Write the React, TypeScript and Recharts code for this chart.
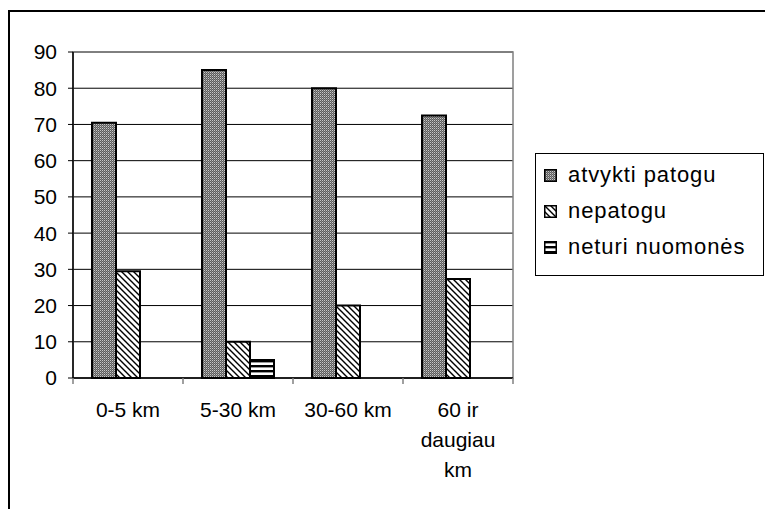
import React from 'react';
import { BarChart, Bar, XAxis, YAxis, CartesianGrid, ReferenceArea } from 'recharts';

const categories = ['0-5 km', '5-30 km', '30-60 km', '60 ir daugiau km'];
const patoguValues = [70.5, 85, 80, 72.5];
const nepatoguValues = [29.5, 10, 20, 27.3];
const neturiValues = [0, 5, 0, 0];
const yTicks = [0, 10, 20, 30, 40, 50, 60, 70, 80, 90];

const seriesNames = ['atvykti patogu', 'nepatogu', 'neturi nuomonės'];

const data = categories.map((name, i) => ({
  name,
  patogu: patoguValues[i],
  nepatogu: nepatoguValues[i],
  neturi: neturiValues[i],
}));

const FONT = '"Liberation Sans", Arial, sans-serif';
const PLOT_LEFT = 73;
const PLOT_RIGHT = 513;
const PLOT_TOP = 52;
const PLOT_BOTTOM = 378;
const BAND = (PLOT_RIGHT - PLOT_LEFT) / categories.length;

const Patterns = ({ suffix }: { suffix: string }) => (
  <defs>
    <pattern id={`check${suffix}`} width="2" height="2" patternUnits="userSpaceOnUse">
      <rect width="2" height="2" fill="#5c5c5c" />
      <rect x="0" y="0" width="1" height="1" fill="#c8c8c8" />
      <rect x="1" y="1" width="1" height="1" fill="#8a8a8a" />
    </pattern>
    <pattern id={`diag${suffix}`} width="6" height="6" patternUnits="userSpaceOnUse">
      <rect width="6" height="6" fill="#fff" />
      <path d="M-1,-1 L7,7 M-1,5 L1,7 M5,-1 L7,1" stroke="#000" strokeWidth="1.4" />
    </pattern>
    <pattern id={`horiz${suffix}`} width="4" height="5" patternUnits="userSpaceOnUse">
      <rect width="4" height="5" fill="#fff" />
      <rect y="0" width="4" height="2.4" fill="#000" />
    </pattern>
  </defs>
);

// wrap long category labels into short lines
const wrap = (label: string, maxChars = 9) => {
  const lines: string[] = [];
  let cur = '';
  label.split(' ').forEach(w => {
    const next = cur ? `${cur} ${w}` : w;
    if (next.length > maxChars && cur) {
      lines.push(cur);
      cur = w;
    } else {
      cur = next;
    }
  });
  if (cur) lines.push(cur);
  return lines;
};

const XTick = ({ x, payload, index }: any) => {
  const lines = wrap(payload.value);
  const left = x - BAND / 2;
  return (
    <g>
      <line x1={left} x2={left} y1={PLOT_BOTTOM} y2={PLOT_BOTTOM + 6} stroke="#808080" strokeWidth={1.5} />
      {index === categories.length - 1 && (
        <line x1={left + BAND} x2={left + BAND} y1={PLOT_BOTTOM} y2={PLOT_BOTTOM + 6} stroke="#808080" strokeWidth={1.5} />
      )}
      <text x={x} y={PLOT_BOTTOM + 39} textAnchor="middle" fontSize={21} fontFamily={FONT} fill="#000">
        {lines.map((l, i) => (
          <tspan key={i} x={x} dy={i === 0 ? 0 : 30}>{l}</tspan>
        ))}
      </text>
    </g>
  );
};

const legendFills = ['url(#checkL)', 'url(#diagL)', 'url(#horizL)'];

const LegendBox = () => (
  <div
    style={{
      position: 'absolute',
      left: 535,
      top: 153,
      width: 227,
      height: 121,
      border: '1px solid #000',
      background: '#fff',
      fontFamily: FONT,
    }}
  >
    {seriesNames.map((name, i) => (
      <div
        key={name}
        style={{ position: 'absolute', left: 8, top: 9 + i * 36, height: 24, display: 'flex', alignItems: 'center' }}
      >
        <svg width={13} height={13} style={{ marginRight: 11 }}>
          <Patterns suffix="L" />
          <rect x={0.75} y={0.75} width={11.5} height={11.5} fill={legendFills[i]} stroke="#000" strokeWidth={1.5} />
        </svg>
        <span style={{ fontSize: 22, letterSpacing: 0.9, color: '#000', whiteSpace: 'nowrap' }}>{name}</span>
      </div>
    ))}
  </div>
);

export default function App() {
  return (
    <div style={{ position: 'relative', width: 765, height: 509, overflow: 'hidden', background: '#fff' }}>
      <style>{`body{margin:0}`}</style>
      <div
        style={{
          position: 'absolute',
          left: 8,
          top: 10,
          width: 900,
          height: 700,
          border: '2px solid #000',
          boxSizing: 'border-box',
        }}
      />
      <div style={{ position: 'absolute', left: 0, top: 0 }}>
        <BarChart
          width={765}
          height={509}
          data={data}
          margin={{ top: PLOT_TOP, right: 765 - PLOT_RIGHT, bottom: 509 - PLOT_BOTTOM - 30, left: PLOT_LEFT - 60 }}
          barGap={0}
          barSize={24}
        >
          <Patterns suffix="" />
          <CartesianGrid vertical={false} stroke="#000" strokeWidth={1} />
          <ReferenceArea y1={0} y2={90} fill="none" stroke="#808080" strokeWidth={1.5} ifOverflow="visible" />
          <XAxis
            dataKey="name"
            height={30}
            axisLine={{ stroke: '#000', strokeWidth: 1.5 }}
            tickLine={false}
            tick={<XTick />}
            interval={0}
          />
          <YAxis
            width={60}
            domain={[0, 90]}
            ticks={yTicks}
            interval={0}
            axisLine={{ stroke: '#000', strokeWidth: 1.5 }}
            tickLine={{ stroke: '#000' }}
            tickSize={5}
            tickMargin={11}
            tick={{ fontSize: 21, fontFamily: FONT, fill: '#000' }}
          />
          <Bar dataKey="patogu" fill="url(#check)" stroke="#000" strokeWidth={2} isAnimationActive={false} />
          <Bar dataKey="nepatogu" fill="url(#diag)" stroke="#000" strokeWidth={2} isAnimationActive={false} />
          <Bar dataKey="neturi" fill="url(#horiz)" stroke="#000" strokeWidth={2} isAnimationActive={false} />
        </BarChart>
      </div>
      <LegendBox />
    </div>
  );
}
